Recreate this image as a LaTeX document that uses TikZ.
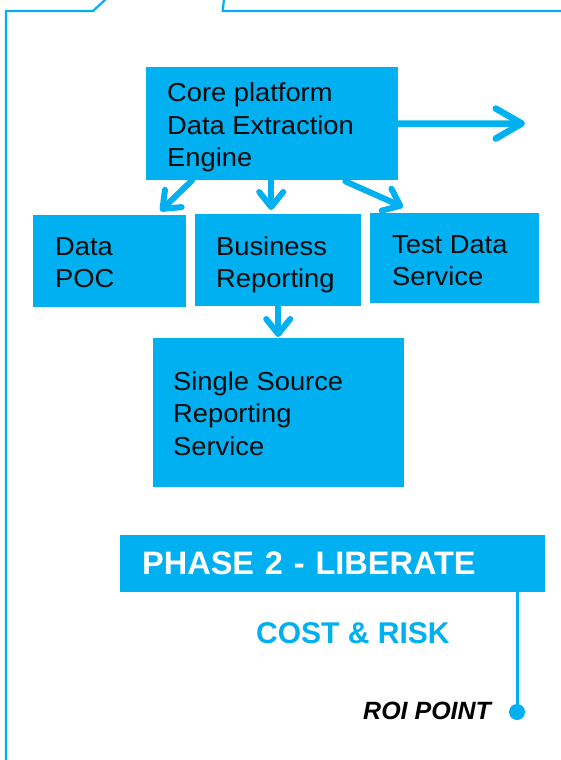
\documentclass[tikz,border=0pt]{standalone}
\usepackage{fontspec}
\setmainfont{Liberation Sans}
\newfontfamily\boxfont[FakeStretch=1.05]{Liberation Sans}
\usetikzlibrary{arrows.meta}
\definecolor{cblue}{RGB}{0,176,240}
\definecolor{ctext}{RGB}{10,10,10}
\begin{document}
\begin{tikzpicture}[x=1pt,y=-1pt,
  bluebox/.style={fill=cblue, draw=none, inner sep=0pt, anchor=north west},
  boxtxt/.style={anchor=base west, inner sep=0pt, text=ctext,
    font=\boxfont\fontsize{26}{32}\selectfont},
  frame/.style={draw=cblue, line width=2.2pt},
  bigarr/.style={draw=cblue, line width=6.5pt, line cap=round,
    -{Straight Barb[length=26pt, width=30pt, round]}},
  smallarr/.style={draw=cblue, line width=6pt, line cap=round,
    -{Straight Barb[length=15pt, width=24pt, round]}},
]
\useasboundingbox (0,0) rectangle (561,760);
% frame
\draw[frame] (6,762) -- (6,11) -- (93,11) -- (106,-1);
\draw[frame] (224,-1) -- (222.7,11) -- (563,11);
% boxes
\node[bluebox, minimum width=252pt, minimum height=113pt] (core) at (146,67) {};
\node[bluebox, minimum width=153pt, minimum height=92pt] (dpoc) at (33,215) {};
\node[bluebox, minimum width=166pt, minimum height=92pt] (bus) at (195,214) {};
\node[bluebox, minimum width=169pt, minimum height=90pt] (test) at (370,213) {};
\node[bluebox, minimum width=251pt, minimum height=149pt] (single) at (153,338) {};
% box texts
\node[boxtxt] (core1) at (167,101) {Core platform};
\node[boxtxt] (core2) at (167,134) {Data Extraction};
\node[boxtxt] (core3) at (167,166) {Engine};
\node[boxtxt] (dpoc1) at (55,255) {Data};
\node[boxtxt] (dpoc2) at (55,287) {POC};
\node[boxtxt] (bus1) at (216,255) {Business};
\node[boxtxt] (bus2) at (216,287) {Reporting};
\node[boxtxt] (test1) at (392,253) {Test Data};
\node[boxtxt] (test2) at (392,285) {Service};
\node[boxtxt] (single1) at (173,390) {Single Source};
\node[boxtxt] (single2) at (173,422) {Reporting};
\node[boxtxt] (single3) at (173,455) {Service};
% arrows
\coordinate (rt) at (525,123.5);
\draw[bigarr] (core.east) -- (rt);
\draw[smallarr] ([xshift=46pt]core.south west) -- ([xshift=-26pt,yshift=4pt]dpoc.north east);
\draw[smallarr] ([xshift=-1pt]core.south) -- ([xshift=-1pt,yshift=4pt]core.south |- bus.north);
\draw[smallarr] ([xshift=-53pt,yshift=-1pt]core.south east) -- ([xshift=33pt,yshift=6pt]test.north west);
\draw[smallarr] (bus.south) -- ([yshift=1pt]bus.south |- single.north);
% phase
\node[fill=cblue, anchor=north west, minimum height=57pt, text width=381pt,
  inner xsep=22pt, inner ysep=0pt, align=left, text=white,
  font=\bfseries\fontsize{32.5}{36}\selectfont] (phase) at (120,535)
  {PHASE 2 - LIBERATE};
\node[anchor=base west, inner sep=0pt, text=cblue,
  font=\bfseries\fontsize{30}{34}\selectfont] (cost) at (256,643) {COST \& RISK};
\node[circle, fill=cblue, minimum size=16pt, inner sep=0pt] (dot) at (517,712) {};
\draw[draw=cblue, line width=3pt] (phase.south -| dot) -- (dot.center);
\node[anchor=base west, inner sep=0pt, text=black,
  font=\bfseries\itshape\fontsize{25}{28}\selectfont] (roi) at (363,719) {ROI POINT};
\end{tikzpicture}
\end{document}
